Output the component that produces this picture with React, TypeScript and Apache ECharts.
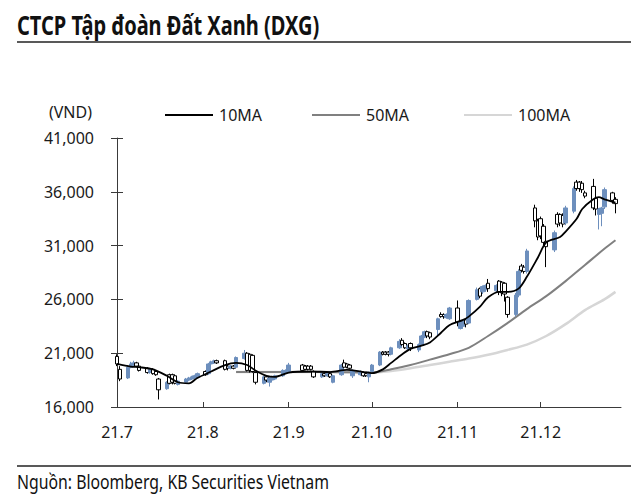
import React, { useEffect, useRef } from "react";
import * as echarts from "echarts";

const titleText = "CTCP Tập đoàn Đất Xanh (DXG)";
const sourceText = "Nguồn: Bloomberg, KB Securities Vietnam";
const unitText = "(VND)";
const legendNames = ["10MA", "50MA", "100MA"];
const monthTicks = ["2021-07-01", "2021-08-01", "2021-09-01", "2021-10-01", "2021-11-01", "2021-12-01"];
const monthLabels = ["21.7", "21.8", "21.9", "21.10", "21.11", "21.12"];
const xStart = "2021-07-01";
const xEnd = "2021-12-30";
const yMin = 16000;
const yMax = 41000;
const yStep = 5000;

// [date, open, close, low, high]
const julCandles: [string, number, number, number, number][] = [
  ["2021-07-01", 20700, 20000, 19800, 20900],
  ["2021-07-02", 19500, 18600, 18400, 19800],
  ["2021-07-05", 18700, 19700, 18600, 19900],
  ["2021-07-06", 19700, 20000, 19600, 20200],
  ["2021-07-07", 19900, 20100, 19800, 20300],
  ["2021-07-08", 20100, 19800, 19700, 20200],
  ["2021-07-09", 19800, 19400, 19300, 19900],
  ["2021-07-12", 19600, 19200, 19100, 19700],
  ["2021-07-13", 19200, 19500, 19100, 19600],
  ["2021-07-14", 19500, 19100, 19000, 19600],
  ["2021-07-15", 19300, 19000, 18900, 19400],
  ["2021-07-16", 18600, 17600, 16700, 18700],
  ["2021-07-19", 17700, 18300, 17600, 18400],
  ["2021-07-20", 19000, 18200, 18100, 19100],
  ["2021-07-21", 19000, 18300, 18100, 19100],
  ["2021-07-22", 18900, 18200, 18100, 19000],
  ["2021-07-23", 18100, 18400, 18000, 18500],
  ["2021-07-26", 18300, 18600, 18200, 18700],
  ["2021-07-27", 18500, 18700, 18400, 18800],
  ["2021-07-28", 18600, 18800, 18500, 18900],
  ["2021-07-29", 18700, 18900, 18600, 19000],
  ["2021-07-30", 18800, 19100, 18700, 19200],
];

const augCandles: [string, number, number, number, number][] = [
  ["2021-08-02", 19300, 19000, 18900, 19400],
  ["2021-08-03", 19100, 20000, 19000, 20100],
  ["2021-08-04", 20000, 20200, 19900, 20300],
  ["2021-08-05", 20100, 20300, 20000, 20400],
  ["2021-08-06", 20300, 20100, 20000, 20400],
  ["2021-08-09", 20300, 19500, 19400, 20400],
  ["2021-08-10", 19800, 19600, 19400, 19900],
  ["2021-08-11", 19600, 19800, 19500, 19900],
  ["2021-08-12", 19800, 19600, 19500, 19900],
  ["2021-08-13", 19700, 20600, 19600, 20700],
  ["2021-08-16", 20500, 21000, 20400, 21300],
  ["2021-08-17", 21000, 19400, 19300, 21100],
  ["2021-08-18", 20900, 19400, 19200, 21000],
  ["2021-08-19", 20800, 19300, 19200, 20900],
  ["2021-08-20", 19200, 18300, 18100, 19300],
  ["2021-08-23", 18200, 18800, 18100, 18900],
  ["2021-08-24", 18800, 18500, 18300, 18900],
  ["2021-08-25", 18300, 18700, 17900, 18800],
  ["2021-08-26", 18500, 18800, 18400, 18900],
  ["2021-08-27", 18600, 18900, 18500, 19000],
  ["2021-08-30", 18900, 19400, 18800, 19500],
  ["2021-08-31", 19200, 19400, 19100, 19500],
];

const sepCandles: [string, number, number, number, number][] = [
  ["2021-09-01", 19300, 19900, 19200, 20100],
  ["2021-09-06", 19900, 19400, 19300, 20000],
  ["2021-09-07", 19800, 19500, 19400, 19900],
  ["2021-09-08", 19800, 19500, 19400, 19900],
  ["2021-09-09", 19800, 19500, 19400, 19900],
  ["2021-09-10", 19300, 18800, 18700, 19400],
  ["2021-09-13", 18800, 19100, 18700, 19200],
  ["2021-09-14", 19100, 18900, 18800, 19200],
  ["2021-09-15", 18900, 19100, 18800, 19200],
  ["2021-09-16", 19100, 18800, 18700, 19200],
  ["2021-09-17", 18300, 18900, 18200, 19000],
  ["2021-09-20", 19000, 19900, 18900, 20000],
  ["2021-09-21", 20100, 19700, 19600, 20400],
  ["2021-09-22", 20000, 19700, 19600, 20100],
  ["2021-09-23", 19900, 19600, 19500, 20000],
  ["2021-09-24", 18900, 19400, 18700, 19500],
  ["2021-09-27", 19000, 19300, 18900, 19400],
  ["2021-09-28", 19200, 18900, 18800, 19300],
  ["2021-09-29", 19100, 18900, 18800, 19200],
  ["2021-09-30", 18800, 19200, 18300, 19300],
];

const octCandles: [string, number, number, number, number][] = [
  ["2021-10-01", 19300, 19900, 19200, 20000],
  ["2021-10-04", 19900, 21100, 19800, 21200],
  ["2021-10-05", 21100, 20900, 20800, 21200],
  ["2021-10-06", 21100, 20900, 20800, 21200],
  ["2021-10-07", 21100, 20900, 20700, 21200],
  ["2021-10-08", 20900, 21500, 20800, 21600],
  ["2021-10-11", 21500, 22100, 21400, 22300],
  ["2021-10-12", 22200, 21800, 21700, 22400],
  ["2021-10-13", 21900, 21500, 21400, 22000],
  ["2021-10-14", 21400, 21700, 21300, 21800],
  ["2021-10-15", 21900, 21500, 21200, 22000],
  ["2021-10-18", 21300, 21800, 21100, 21900],
  ["2021-10-19", 21800, 22600, 21700, 22700],
  ["2021-10-20", 22500, 23000, 22400, 23100],
  ["2021-10-21", 23000, 22600, 22400, 23100],
  ["2021-10-22", 22900, 22500, 22300, 23000],
  ["2021-10-25", 23200, 24200, 22600, 24300],
  ["2021-10-26", 24600, 24400, 24300, 24800],
  ["2021-10-27", 24600, 24400, 24200, 24700],
  ["2021-10-28", 24300, 24600, 24200, 24700],
  ["2021-10-29", 24200, 25200, 24100, 25300],
];

const novCandles: [string, number, number, number, number][] = [
  ["2021-11-01", 25200, 23900, 23500, 25900],
  ["2021-11-02", 23300, 23900, 23200, 24000],
  ["2021-11-03", 23500, 24000, 23300, 24100],
  ["2021-11-04", 24100, 23700, 23400, 24200],
  ["2021-11-05", 23800, 25900, 23700, 26000],
  ["2021-11-08", 26000, 26900, 25900, 27100],
  ["2021-11-09", 27000, 26300, 26100, 27100],
  ["2021-11-10", 26700, 27200, 26500, 27300],
  ["2021-11-11", 26900, 27300, 26700, 27400],
  ["2021-11-12", 27500, 27000, 26700, 27900],
  ["2021-11-15", 26800, 27300, 26600, 27400],
  ["2021-11-16", 27700, 26700, 26400, 27800],
  ["2021-11-17", 27600, 26600, 26300, 27700],
  ["2021-11-18", 27500, 26500, 25800, 27600],
  ["2021-11-19", 26200, 24600, 24300, 26300],
  ["2021-11-22", 24600, 26400, 24400, 26600],
  ["2021-11-23", 26400, 28600, 26200, 28800],
  ["2021-11-24", 29100, 28700, 28500, 29300],
  ["2021-11-25", 29000, 28600, 28400, 29200],
  ["2021-11-26", 28600, 30500, 28400, 30700],
  ["2021-11-29", 34500, 33300, 32700, 34800],
  ["2021-11-30", 33300, 31800, 31500, 33500],
];

const decCandles: [string, number, number, number, number][] = [
  ["2021-12-01", 33500, 31900, 31600, 33700],
  ["2021-12-02", 32800, 31300, 31000, 33000],
  ["2021-12-03", 31400, 30900, 29000, 31600],
  ["2021-12-06", 30600, 32200, 30400, 32400],
  ["2021-12-07", 33900, 33000, 32700, 34100],
  ["2021-12-08", 33900, 33100, 32800, 34000],
  ["2021-12-09", 33800, 33000, 32700, 34000],
  ["2021-12-10", 33100, 34500, 32900, 34700],
  ["2021-12-13", 34200, 36300, 34000, 36500],
  ["2021-12-14", 36900, 36300, 36100, 37100],
  ["2021-12-15", 36900, 36300, 36000, 37000],
  ["2021-12-16", 36800, 36200, 35900, 37000],
  ["2021-12-17", 35900, 35600, 35400, 36100],
  ["2021-12-20", 36500, 34500, 34300, 37200],
  ["2021-12-21", 35400, 34400, 33800, 35500],
  ["2021-12-22", 33900, 34400, 32500, 34500],
  ["2021-12-23", 34000, 34500, 32800, 34600],
  ["2021-12-24", 34600, 36200, 34400, 36400],
  ["2021-12-27", 35900, 35200, 34900, 36000],
  ["2021-12-28", 35300, 34900, 34000, 35500],
];

const ma10: [string, number][] = [
  ["2021-07-01", 20000],
  ["2021-07-06", 19750],
  ["2021-07-09", 19700],
  ["2021-07-14", 19500],
  ["2021-07-19", 18900],
  ["2021-07-23", 18300],
  ["2021-07-27", 18200],
  ["2021-07-30", 18700],
  ["2021-08-04", 19300],
  ["2021-08-09", 19900],
  ["2021-08-13", 20100],
  ["2021-08-17", 19900],
  ["2021-08-20", 19400],
  ["2021-08-24", 18900],
  ["2021-08-27", 18800],
  ["2021-09-01", 19200],
  ["2021-09-09", 19300],
  ["2021-09-16", 19250],
  ["2021-09-22", 19450],
  ["2021-09-28", 19250],
  ["2021-10-01", 19150],
  ["2021-10-05", 19500],
  ["2021-10-08", 20100],
  ["2021-10-12", 20900],
  ["2021-10-15", 21400],
  ["2021-10-19", 21700],
  ["2021-10-22", 22000],
  ["2021-10-26", 22900],
  ["2021-10-29", 23600],
  ["2021-11-03", 24100],
  ["2021-11-05", 24400],
  ["2021-11-09", 25300],
  ["2021-11-12", 26200],
  ["2021-11-16", 26700],
  ["2021-11-19", 26700],
  ["2021-11-23", 27000],
  ["2021-11-26", 28100],
  ["2021-11-30", 29900],
  ["2021-12-03", 31300],
  ["2021-12-08", 31800],
  ["2021-12-10", 32300],
  ["2021-12-14", 33500],
  ["2021-12-16", 34400],
  ["2021-12-20", 35300],
  ["2021-12-22", 35500],
  ["2021-12-24", 35300],
  ["2021-12-28", 35000],
];

const ma50: [string, number][] = [
  ["2021-08-13", 19250],
  ["2021-09-01", 19250],
  ["2021-09-15", 19250],
  ["2021-10-01", 19200],
  ["2021-10-08", 19500],
  ["2021-10-15", 19900],
  ["2021-10-22", 20400],
  ["2021-10-29", 20900],
  ["2021-11-05", 21500],
  ["2021-11-12", 22600],
  ["2021-11-19", 23800],
  ["2021-11-26", 25100],
  ["2021-12-03", 26300],
  ["2021-12-10", 27700],
  ["2021-12-17", 29200],
  ["2021-12-24", 30700],
  ["2021-12-28", 31500],
];

const ma100: [string, number][] = [
  ["2021-08-13", 19250],
  ["2021-09-15", 19250],
  ["2021-10-01", 19200],
  ["2021-10-08", 19350],
  ["2021-10-15", 19600],
  ["2021-10-22", 19900],
  ["2021-10-29", 20200],
  ["2021-11-05", 20500],
  ["2021-11-12", 20850],
  ["2021-11-19", 21300],
  ["2021-11-26", 21800],
  ["2021-12-03", 22600],
  ["2021-12-10", 23700],
  ["2021-12-17", 25000],
  ["2021-12-24", 26000],
  ["2021-12-28", 26700],
];

const ts = (s: string) => {
  const [y, m, d] = s.split("-").map(Number);
  return Date.UTC(y, m - 1, d);
};

const FONT = '"Noto Sans", sans-serif';
const TEXT = "#1a1a1a";
const AXIS = "#3a3a3a";
const UP = "#6d8fbd";
const MA_COLORS = ["#000000", "#808080", "#d6d6d6"];

export default function App() {
  const ref = useRef<HTMLDivElement>(null);

  useEffect(() => {
    if (!ref.current) return;
    const chart = echarts.init(ref.current, undefined, { renderer: "svg" });
    const candles = [...julCandles, ...augCandles, ...sepCandles, ...octCandles, ...novCandles, ...decCandles];
    const tickTs = monthTicks.map(ts);
    const toLine = (arr: [string, number][]) => arr.map((p) => [ts(p[0]), p[1]]);

    const yAxisBase = {
      type: "value" as const,
      min: yMin,
      max: yMax,
      interval: yStep,
      splitLine: { show: false },
    };

    const legendX = [165, 312, 464];
    const legendGraphics: any[] = [];
    legendNames.forEach((name, i) => {
      legendGraphics.push({
        type: "line",
        shape: { x1: legendX[i], y1: 115, x2: legendX[i] + 48, y2: 115 },
        style: { stroke: MA_COLORS[i], lineWidth: 2 },
      });
      legendGraphics.push({
        type: "text",
        x: legendX[i] + 54,
        y: 115,
        style: { text: name, fontSize: 16, fontFamily: FONT, fill: TEXT, verticalAlign: "middle", align: "left" },
      });
    });

    const maLine = (name: string, arr: [string, number][], color: string, width: number, z: number) => ({
      name,
      type: "line",
      data: toLine(arr),
      smooth: 0.3,
      showSymbol: false,
      lineStyle: { color, width },
      z,
    });

    chart.setOption({
      animation: false,
      grid: { left: 117, right: 19, top: 138, bottom: 94, containLabel: false },
      xAxis: {
        type: "value",
        min: ts(xStart),
        max: ts(xEnd),
        axisLine: { show: true, onZero: false, lineStyle: { color: AXIS, width: 1 } },
        axisTick: { show: true, inside: true, length: 5, customValues: tickTs, lineStyle: { color: AXIS } },
        axisLabel: {
          customValues: tickTs,
          formatter: (v: number) => {
            const i = tickTs.indexOf(v);
            return i >= 0 ? monthLabels[i] : "";
          },
          margin: 17,
          fontSize: 16,
          fontFamily: FONT,
          color: TEXT,
          hideOverlap: false,
          showMinLabel: true,
        },
        splitLine: { show: false },
      },
      yAxis: [
        {
          ...yAxisBase,
          axisLine: { show: true, lineStyle: { color: AXIS, width: 1 } },
          axisTick: { show: true, inside: false, length: 6, lineStyle: { color: AXIS } },
          axisLabel: {
            formatter: (v: number) => v.toLocaleString("en-US"),
            margin: 23,
            fontSize: 16,
            fontFamily: FONT,
            color: TEXT,
          },
        },
        {
          ...yAxisBase,
          position: "left",
          axisLine: { show: false },
          axisTick: { show: true, inside: true, length: 6, lineStyle: { color: AXIS } },
          axisLabel: { show: false },
        },
      ],
      series: [
        maLine(legendNames[2], ma100, MA_COLORS[2], 2.5, 2),
        maLine(legendNames[1], ma50, MA_COLORS[1], 2, 2),
        {
          type: "candlestick",
          data: candles.map((c) => [ts(c[0]), c[1], c[2], c[3], c[4]]),
          barWidth: 4,
          itemStyle: {
            color: UP,
            color0: "#ffffff",
            borderColor: UP,
            borderColor0: "#000000",
            borderWidth: 1,
          },
          z: 3,
        },
        maLine(legendNames[0], ma10, MA_COLORS[0], 1.8, 4),
      ],
      graphic: [
        {
          type: "text",
          x: 17,
          y: 25,
          scaleX: 0.77,
          style: { text: titleText, fontSize: 26, fontWeight: "bold", fontFamily: FONT, fill: "#111", verticalAlign: "middle", align: "left" },
        },
        { type: "line", shape: { x1: 17, y1: 42, x2: 631, y2: 42 }, style: { stroke: "#222", lineWidth: 1.5 } },
        { type: "line", shape: { x1: 17, y1: 466, x2: 631, y2: 466 }, style: { stroke: "#222", lineWidth: 1.5 } },
        {
          type: "text",
          x: 17,
          y: 481,
          scaleX: 0.79,
          style: { text: sourceText, fontSize: 20, fontFamily: FONT, fill: "#111", verticalAlign: "middle", align: "left" },
        },
        {
          type: "text",
          x: 92,
          y: 112,
          style: { text: unitText, fontSize: 16, fontFamily: FONT, fill: TEXT, verticalAlign: "middle", align: "right" },
        },
        ...legendGraphics,
      ],
    });
    return () => chart.dispose();
  }, []);

  return <div ref={ref} style={{ position: "absolute", left: 0, top: 0, width: 640, height: 501 }} />;
}
